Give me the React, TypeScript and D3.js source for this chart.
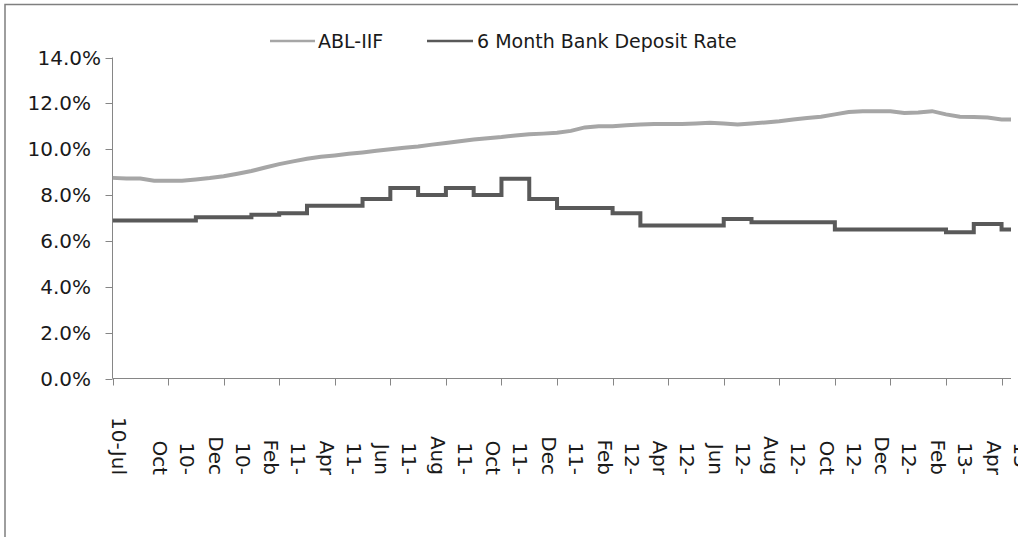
import React from "react";
import * as d3 from "d3";

// category axis: one label every 4 points
const tickLabels = [
  "10-Jul", "10-Oct", "10-Dec", "11-Feb", "11-Apr", "11-Jun", "11-Aug", "11-Oct", "11-Dec",
  "12-Feb", "12-Apr", "12-Jun", "12-Aug", "12-Oct", "12-Dec", "13-Feb", "13-Apr",
];
const pointsPerLabel = 4;
const yTicks = [0, 2, 4, 6, 8, 10, 12, 14];

// values in %, one per point
const ablIif = [
  8.75, 8.72, 8.72, 8.63, 8.63, 8.63, 8.68, 8.74, 8.82, 8.93,
  9.05, 9.2, 9.35, 9.47, 9.58, 9.67, 9.73, 9.8, 9.86, 9.93,
  10.0, 10.06, 10.12, 10.2, 10.27, 10.35, 10.42, 10.48, 10.53, 10.6,
  10.65, 10.68, 10.72, 10.8, 10.95, 11.0, 11.0, 11.05, 11.08, 11.1,
  11.1, 11.1, 11.12, 11.15, 11.12, 11.08, 11.12, 11.17, 11.22, 11.3,
  11.36, 11.42, 11.52, 11.62, 11.66, 11.66, 11.66, 11.58, 11.6, 11.66,
  11.52, 11.42, 11.4, 11.38, 11.3, 11.3,
];
const depositRate = [
  6.89, 6.89, 6.89, 6.89, 6.89, 6.89, 7.03, 7.03, 7.03, 7.03,
  7.14, 7.14, 7.21, 7.21, 7.53, 7.53, 7.53, 7.53, 7.83, 7.83,
  8.31, 8.31, 8.0, 8.0, 8.31, 8.31, 8.0, 8.0, 8.71, 8.71,
  7.83, 7.83, 7.44, 7.44, 7.44, 7.44, 7.21, 7.21, 6.67, 6.67,
  6.67, 6.67, 6.67, 6.67, 6.96, 6.96, 6.82, 6.82, 6.82, 6.82,
  6.82, 6.82, 6.5, 6.5, 6.5, 6.5, 6.5, 6.5, 6.5, 6.5,
  6.38, 6.38, 6.74, 6.74, 6.5, 6.5,
];

const W = 1018;
const H = 537;
const left = 112.5;
const right = 1011;
const top = 57.5;
const bottom = 378.5;
const font = "'DejaVu Sans', Verdana, sans-serif";
const axisColor = "#868686";
const textColor = "#1a1a1a";
const lightGrey = "#a6a6a6";
const darkGrey = "#595959";

const App = () => {
  const x = d3.scaleLinear().domain([0, 64.68]).range([left, right]);
  const y = d3.scaleLinear().domain([0, 14]).range([bottom, top]);

  const ablLine = d3
    .line<number>()
    .x((d, i) => x(i))
    .y((d) => y(d));

  const depositLine = d3
    .line<number>()
    .x((d, i) => x(i))
    .y((d) => y(d))
    .curve(d3.curveStepAfter);

  const lineGap = 27;

  return (
    <svg
      width={W}
      height={H}
      style={{ position: "absolute", left: 0, top: 0, background: "#fff" }}
      fontFamily={font}
    >
      <defs>
        <clipPath id="plot">
          <rect x={left} y={0} width={right - left} height={H} />
        </clipPath>
      </defs>

      {/* chart border, cut off at the right and bottom */}
      <rect x={5} y={4.5} width={W + 20} height={H + 20} fill="none" stroke="#7f7f7f" strokeWidth={1.5} />

      {/* legend */}
      <g fontSize={19} fill={textColor}>
        <line x1={270} x2={315} y1={41} y2={41} stroke={lightGrey} strokeWidth={2.5} />
        <text x={318} y={41} dy="0.35em">ABL-IIF</text>
        <line x1={427} x2={473} y1={41} y2={41} stroke={darkGrey} strokeWidth={2.5} />
        <text x={477} y={41} dy="0.35em">6 Month Bank Deposit Rate</text>
      </g>

      {/* y axis */}
      <line x1={left} x2={left} y1={top} y2={bottom} stroke={axisColor} />
      {yTicks.map((t, i) => (
        <g key={t}>
          <line x1={left - 7} x2={left} y1={Math.round(y(t)) + 0.5} y2={Math.round(y(t)) + 0.5} stroke={axisColor} />
          <text
            x={i === yTicks.length - 1 ? 101 : 91}
            y={y(t)}
            dy="0.35em"
            textAnchor="end"
            fontSize={20}
            fill={textColor}
          >
            {d3.format(".1f")(t) + "%"}
          </text>
        </g>
      ))}

      {/* x axis */}
      <line x1={left} x2={right} y1={bottom} y2={bottom} stroke={axisColor} />
      {tickLabels.map((lab, i) => {
        const tx = Math.round(x(i * pointsPerLabel)) + 0.5;
        const parts = i === 0 ? [lab] : [lab.slice(0, 3), lab.slice(3)];
        return (
          <g key={lab}>
            <line x1={tx} x2={tx} y1={bottom} y2={bottom + 7} stroke={axisColor} />
            <text
              transform={`translate(${tx + 5},475) rotate(90)`}
              textAnchor="end"
              fontSize={20}
              fill={textColor}
            >
              {parts.map((p, j) => (
                <tspan
                  key={j}
                  x={0}
                  y={(j - (parts.length - 1) / 2) * lineGap}
                  dy="0.35em"
                >
                  {p}
                </tspan>
              ))}
            </text>
          </g>
        );
      })}

      {/* series */}
      <g clipPath="url(#plot)" fill="none" strokeLinejoin="miter">
        <path d={ablLine(ablIif) || ""} stroke={lightGrey} strokeWidth={4} />
        <path d={depositLine(depositRate) || ""} stroke={darkGrey} strokeWidth={4} />
      </g>
    </svg>
  );
};

export default App;
